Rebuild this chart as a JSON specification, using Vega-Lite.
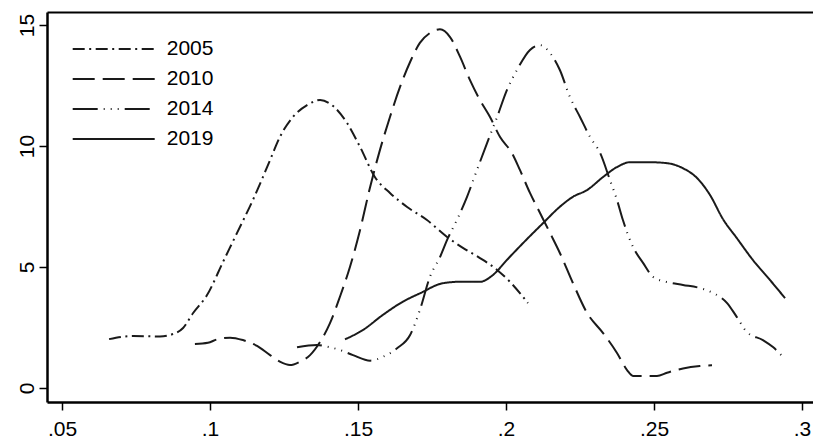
{
  "$schema": "https://vega.github.io/schema/vega-lite/v6.json",
  "width": 766,
  "height": 390,
  "autosize": {"type": "none"},
  "padding": {"left": 47, "top": 12, "right": 0, "bottom": 37},
  "background": "white",
  "config": {
    "view": {"stroke": null},
    "axis": {
      "labelFont": "Liberation Sans",
      "labelFontSize": 21,
      "labelColor": "#000000",
      "domainColor": "#000000",
      "domainWidth": 2.5,
      "tickColor": "#000000",
      "tickWidth": 1.5,
      "tickSize": 8,
      "grid": false,
      "title": null
    }
  },
  "data": {
    "values": [
      {"year": "2005", "x": 0.0659, "y": 2.02},
      {"year": "2005", "x": 0.0740, "y": 2.15},
      {"year": "2005", "x": 0.0831, "y": 2.13},
      {"year": "2005", "x": 0.0875, "y": 2.23},
      {"year": "2005", "x": 0.0909, "y": 2.48},
      {"year": "2005", "x": 0.0943, "y": 3.10},
      {"year": "2005", "x": 0.0990, "y": 3.84},
      {"year": "2005", "x": 0.1044, "y": 5.21},
      {"year": "2005", "x": 0.1091, "y": 6.40},
      {"year": "2005", "x": 0.1145, "y": 7.77},
      {"year": "2005", "x": 0.1203, "y": 9.42},
      {"year": "2005", "x": 0.1236, "y": 10.37},
      {"year": "2005", "x": 0.1280, "y": 11.20},
      {"year": "2005", "x": 0.1328, "y": 11.69},
      {"year": "2005", "x": 0.1372, "y": 11.90},
      {"year": "2005", "x": 0.1416, "y": 11.65},
      {"year": "2005", "x": 0.1463, "y": 10.95},
      {"year": "2005", "x": 0.1507, "y": 9.96},
      {"year": "2005", "x": 0.1557, "y": 8.72},
      {"year": "2005", "x": 0.1608, "y": 8.06},
      {"year": "2005", "x": 0.1666, "y": 7.48},
      {"year": "2005", "x": 0.1733, "y": 6.94},
      {"year": "2005", "x": 0.1801, "y": 6.24},
      {"year": "2005", "x": 0.1861, "y": 5.74},
      {"year": "2005", "x": 0.1912, "y": 5.37},
      {"year": "2005", "x": 0.1970, "y": 4.88},
      {"year": "2005", "x": 0.2014, "y": 4.38},
      {"year": "2005", "x": 0.2074, "y": 3.51},

      {"year": "2010", "x": 0.0949, "y": 1.82},
      {"year": "2010", "x": 0.0993, "y": 1.87},
      {"year": "2010", "x": 0.1024, "y": 2.01},
      {"year": "2010", "x": 0.1068, "y": 2.08},
      {"year": "2010", "x": 0.1111, "y": 1.98},
      {"year": "2010", "x": 0.1159, "y": 1.74},
      {"year": "2010", "x": 0.1203, "y": 1.36},
      {"year": "2010", "x": 0.1236, "y": 1.09},
      {"year": "2010", "x": 0.1270, "y": 0.95},
      {"year": "2010", "x": 0.1304, "y": 1.09},
      {"year": "2010", "x": 0.1338, "y": 1.36},
      {"year": "2010", "x": 0.1372, "y": 1.91},
      {"year": "2010", "x": 0.1405, "y": 2.67},
      {"year": "2010", "x": 0.1439, "y": 3.77},
      {"year": "2010", "x": 0.1473, "y": 5.01},
      {"year": "2010", "x": 0.1507, "y": 6.53},
      {"year": "2010", "x": 0.1541, "y": 8.31},
      {"year": "2010", "x": 0.1574, "y": 9.83},
      {"year": "2010", "x": 0.1608, "y": 11.20},
      {"year": "2010", "x": 0.1642, "y": 12.44},
      {"year": "2010", "x": 0.1676, "y": 13.47},
      {"year": "2010", "x": 0.1709, "y": 14.26},
      {"year": "2010", "x": 0.1743, "y": 14.67},
      {"year": "2010", "x": 0.1777, "y": 14.82},
      {"year": "2010", "x": 0.1811, "y": 14.50},
      {"year": "2010", "x": 0.1845, "y": 13.68},
      {"year": "2010", "x": 0.1878, "y": 12.73},
      {"year": "2010", "x": 0.1912, "y": 11.90},
      {"year": "2010", "x": 0.1946, "y": 11.20},
      {"year": "2010", "x": 0.1980, "y": 10.37},
      {"year": "2010", "x": 0.2020, "y": 9.71},
      {"year": "2010", "x": 0.2047, "y": 9.01},
      {"year": "2010", "x": 0.2081, "y": 8.06},
      {"year": "2010", "x": 0.2115, "y": 7.23},
      {"year": "2010", "x": 0.2149, "y": 6.40},
      {"year": "2010", "x": 0.2182, "y": 5.58},
      {"year": "2010", "x": 0.2226, "y": 4.34},
      {"year": "2010", "x": 0.2274, "y": 3.10},
      {"year": "2010", "x": 0.2328, "y": 2.27},
      {"year": "2010", "x": 0.2375, "y": 1.45},
      {"year": "2010", "x": 0.2409, "y": 0.74},
      {"year": "2010", "x": 0.2429, "y": 0.50},
      {"year": "2010", "x": 0.2476, "y": 0.50},
      {"year": "2010", "x": 0.2510, "y": 0.50},
      {"year": "2010", "x": 0.2544, "y": 0.63},
      {"year": "2010", "x": 0.2598, "y": 0.81},
      {"year": "2010", "x": 0.2655, "y": 0.91},
      {"year": "2010", "x": 0.2696, "y": 0.94},

      {"year": "2014", "x": 0.1294, "y": 1.68},
      {"year": "2014", "x": 0.1361, "y": 1.78},
      {"year": "2014", "x": 0.1395, "y": 1.71},
      {"year": "2014", "x": 0.1439, "y": 1.57},
      {"year": "2014", "x": 0.1483, "y": 1.36},
      {"year": "2014", "x": 0.1541, "y": 1.13},
      {"year": "2014", "x": 0.1584, "y": 1.29},
      {"year": "2014", "x": 0.1632, "y": 1.64},
      {"year": "2014", "x": 0.1676, "y": 2.19},
      {"year": "2014", "x": 0.1709, "y": 3.22},
      {"year": "2014", "x": 0.1743, "y": 4.59},
      {"year": "2014", "x": 0.1777, "y": 5.41},
      {"year": "2014", "x": 0.1804, "y": 6.20},
      {"year": "2014", "x": 0.1834, "y": 6.94},
      {"year": "2014", "x": 0.1868, "y": 7.89},
      {"year": "2014", "x": 0.1902, "y": 9.01},
      {"year": "2014", "x": 0.1936, "y": 10.12},
      {"year": "2014", "x": 0.1970, "y": 11.20},
      {"year": "2014", "x": 0.2003, "y": 12.31},
      {"year": "2014", "x": 0.2037, "y": 13.14},
      {"year": "2014", "x": 0.2081, "y": 13.97},
      {"year": "2014", "x": 0.2115, "y": 14.17},
      {"year": "2014", "x": 0.2149, "y": 13.84},
      {"year": "2014", "x": 0.2182, "y": 13.14},
      {"year": "2014", "x": 0.2216, "y": 12.02},
      {"year": "2014", "x": 0.2250, "y": 11.20},
      {"year": "2014", "x": 0.2284, "y": 10.37},
      {"year": "2014", "x": 0.2318, "y": 9.71},
      {"year": "2014", "x": 0.2351, "y": 8.60},
      {"year": "2014", "x": 0.2375, "y": 7.77},
      {"year": "2014", "x": 0.2395, "y": 6.94},
      {"year": "2014", "x": 0.2429, "y": 5.83},
      {"year": "2014", "x": 0.2463, "y": 5.17},
      {"year": "2014", "x": 0.2497, "y": 4.59},
      {"year": "2014", "x": 0.2544, "y": 4.38},
      {"year": "2014", "x": 0.2598, "y": 4.26},
      {"year": "2014", "x": 0.2655, "y": 4.13},
      {"year": "2014", "x": 0.2699, "y": 3.93},
      {"year": "2014", "x": 0.2747, "y": 3.51},
      {"year": "2014", "x": 0.2780, "y": 2.93},
      {"year": "2014", "x": 0.2814, "y": 2.31},
      {"year": "2014", "x": 0.2868, "y": 1.98},
      {"year": "2014", "x": 0.2902, "y": 1.69},
      {"year": "2014", "x": 0.2936, "y": 1.28},

      {"year": "2019", "x": 0.1456, "y": 2.01},
      {"year": "2019", "x": 0.1517, "y": 2.40},
      {"year": "2019", "x": 0.1584, "y": 3.02},
      {"year": "2019", "x": 0.1652, "y": 3.57},
      {"year": "2019", "x": 0.1709, "y": 3.91},
      {"year": "2019", "x": 0.1787, "y": 4.33},
      {"year": "2019", "x": 0.1845, "y": 4.39},
      {"year": "2019", "x": 0.1912, "y": 4.39},
      {"year": "2019", "x": 0.1956, "y": 4.67},
      {"year": "2019", "x": 0.2003, "y": 5.29},
      {"year": "2019", "x": 0.2057, "y": 5.98},
      {"year": "2019", "x": 0.2125, "y": 6.81},
      {"year": "2019", "x": 0.2182, "y": 7.49},
      {"year": "2019", "x": 0.2226, "y": 7.90},
      {"year": "2019", "x": 0.2274, "y": 8.18},
      {"year": "2019", "x": 0.2328, "y": 8.72},
      {"year": "2019", "x": 0.2375, "y": 9.13},
      {"year": "2019", "x": 0.2419, "y": 9.33},
      {"year": "2019", "x": 0.2486, "y": 9.33},
      {"year": "2019", "x": 0.2544, "y": 9.29},
      {"year": "2019", "x": 0.2598, "y": 9.08},
      {"year": "2019", "x": 0.2645, "y": 8.68},
      {"year": "2019", "x": 0.2689, "y": 7.98},
      {"year": "2019", "x": 0.2733, "y": 6.98},
      {"year": "2019", "x": 0.2780, "y": 6.19},
      {"year": "2019", "x": 0.2834, "y": 5.29},
      {"year": "2019", "x": 0.2892, "y": 4.46},
      {"year": "2019", "x": 0.2943, "y": 3.71}
    ]
  },
  "layer": [
    {
      "mark": {"type": "line", "color": "#1a1a1a", "strokeWidth": 2, "interpolate": "monotone"},
      "encoding": {
        "x": {
          "field": "x", "type": "quantitative",
          "scale": {"domain": [0.04493, 0.30372], "nice": false, "zero": false},
          "axis": {
            "orient": "bottom",
            "values": [0.05, 0.1, 0.15, 0.2, 0.25, 0.3],
            "labelExpr": "substring(format(datum.value, '.2~f'), 1)",
            "labelPadding": 8,
            "labelFlush": false,
            "labelOverlap": false
          }
        },
        "y": {
          "field": "y", "type": "quantitative",
          "scale": {"domain": [-0.5785, 15.537], "nice": false, "zero": false},
          "axis": {
            "values": [0, 5, 10, 15],
            "format": "d",
            "labelAngle": -90,
            "labelAlign": "center",
            "labelBaseline": "bottom",
            "labelPadding": 2,
            "labelFlush": false,
            "labelOverlap": false
          }
        },
        "strokeDash": {
          "field": "year", "type": "nominal",
          "scale": {
            "domain": ["2005", "2010", "2014", "2019"],
            "range": [[12, 4.5, 2, 4.5], [22, 8], [25, 6, 1, 6, 1, 6, 1, 6], [1, 0]]
          },
          "legend": {
            "title": null,
            "orient": "none",
            "legendX": 55.2,
            "legendY": 25.5,
            "padding": 0,
            "symbolType": "M-4,0H4",
            "symbolSize": 420.25,
            "symbolStrokeWidth": 2,
            "symbolStrokeColor": "#1a1a1a",
            "symbolFillColor": "transparent",
            "labelFont": "Liberation Sans",
            "labelFontSize": 21,
            "labelColor": "#000000",
            "labelOffset": 41.5,
            "rowPadding": 8
          }
        }
      }
    },
    {
      "mark": {"type": "line", "opacity": 0},
      "encoding": {
        "x": {
          "field": "x", "type": "quantitative",
          "axis": {"orient": "top", "labels": false, "ticks": false, "domainWidth": 2, "title": null}
        },
        "y": {"field": "y", "type": "quantitative"},
        "detail": {"field": "year"}
      }
    }
  ],
  "resolve": {"axis": {"x": "independent"}}
}
